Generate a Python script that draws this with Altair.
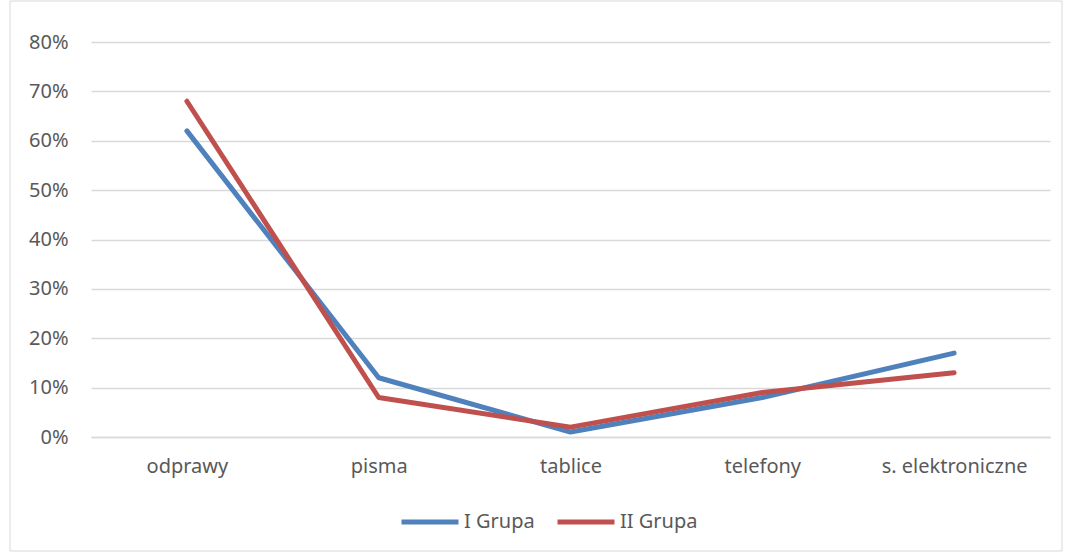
import altair as alt
import pandas as pd

categories = ["odprawy", "pisma", "tablice", "telefony", "s. elektroniczne"]
grupa_1 = [0.62, 0.12, 0.01, 0.08, 0.17]
grupa_2 = [0.68, 0.08, 0.02, 0.09, 0.13]
series_names = ["I Grupa", "II Grupa"]
y_ticks = [0, 0.1, 0.2, 0.3, 0.4, 0.5, 0.6, 0.7, 0.8]

rows = []
for name, vals in zip(series_names, [grupa_1, grupa_2]):
    for c, v in zip(categories, vals):
        rows.append({"kategoria": c, "wartosc": v, "grupa": name})
df = pd.DataFrame(rows)

W, H = 959, 395
FONT = "Noto Sans"
TXT = "#595959"
FS = 20

lines = alt.Chart(df).mark_line(strokeWidth=5, strokeCap="round", strokeJoin="round").encode(
    x=alt.X("kategoria:N", sort=categories, title=None,
            scale=alt.Scale(type="point", padding=0.5),
            axis=alt.Axis(labelAngle=0, ticks=False, domain=True, domainColor="#d9d9d9",
                          domainWidth=1.5, labelPadding=19, labelFontSize=FS,
                          labelColor=TXT, labelFont=FONT, grid=False)),
    y=alt.Y("wartosc:Q", title=None, scale=alt.Scale(domain=[0, 0.8], nice=False),
            axis=alt.Axis(format=".0%", values=y_ticks, ticks=False, domain=False,
                          labelPadding=23, labelFontSize=FS, labelColor=TXT, labelFont=FONT,
                          grid=True, gridColor="#d9d9d9", gridWidth=1.5)),
    color=alt.Color("grupa:N", title=None,
                    scale=alt.Scale(domain=series_names, range=["#4F81BD", "#C0504D"]),
                    legend=alt.Legend(orient="none", legendX=308, legendY=449, direction="horizontal",
                                      symbolType="stroke", symbolSize=3249, symbolStrokeWidth=5,
                                      labelFontSize=FS, labelColor=TXT, labelFont=FONT,
                                      labelOffset=3, columnPadding=12)),
)

frame = alt.Chart(pd.DataFrame({"a": [0]})).mark_rect(fill=None, stroke="#d9d9d9", strokeWidth=1).encode(
    x=alt.value(-81), x2=alt.value(W + 12), y=alt.value(-41), y2=alt.value(H + 114)
)

chart = alt.layer(frame, lines).properties(
    width=W, height=H,
    autosize=alt.AutoSizeParams(type="none"),
    padding={"left": 91, "top": 42, "right": 16, "bottom": 117},
    background="white",
).configure_view(stroke=None)

chart.save("out.html", embed_options={"renderer": "svg", "actions": False})
